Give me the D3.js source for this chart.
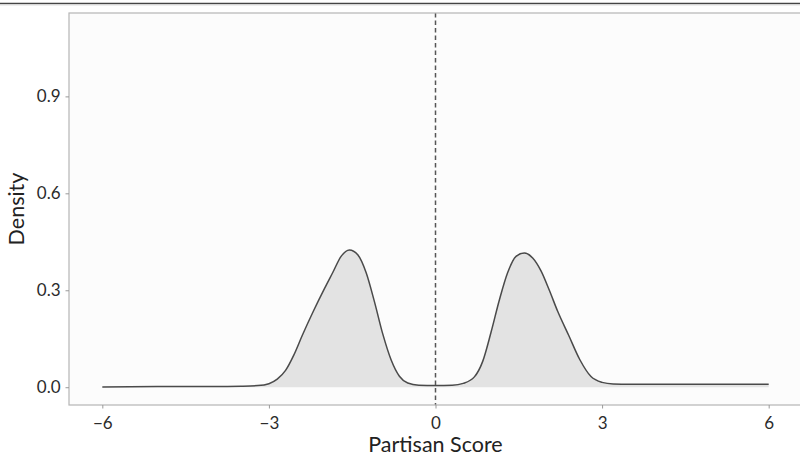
<!DOCTYPE html>
<html>
<head>
<meta charset="utf-8">
<script src="https://cdn.jsdelivr.net/npm/d3@7"></script>
<style>
  body { margin: 0; background: #fff; }
  svg { display: block; font-family: Lato, "Open Sans", sans-serif; }
</style>
</head>
<body>
<div id="chart"></div>
<script>
// density estimate
const scoreX = [-6, -5, -4, -3.5, -3.2, -3.0, -2.85, -2.7, -2.55, -2.4, -2.2, -2.0, -1.85, -1.7, -1.55,
  -1.4, -1.25, -1.1, -0.95, -0.8, -0.65, -0.5, -0.3, 0, 0.3, 0.5, 0.7, 0.85, 1.0, 1.15, 1.3, 1.45,
  1.6, 1.75, 1.9, 2.05, 2.2, 2.4, 2.6, 2.8, 3.0, 3.2, 3.5, 4, 5, 6]
const densityY = [0.001, 0.002, 0.002, 0.003, 0.005, 0.011, 0.025, 0.052, 0.1, 0.16, 0.235, 0.305, 0.355, 0.405, 0.425,
  0.41, 0.355, 0.265, 0.165, 0.085, 0.034, 0.013, 0.006, 0.005, 0.006, 0.012, 0.032, 0.08, 0.17, 0.27, 0.355, 0.405,
  0.415, 0.4, 0.36, 0.3, 0.235, 0.16, 0.085, 0.033, 0.015, 0.01, 0.009, 0.009, 0.009, 0.009]
const xTicks = [-6, -3, 0, 3, 6]
const yTicks = [0, 0.3, 0.6, 0.9]
const xDomain = [-6.6, 6.6]
const yDomain = [-0.055, 1.158]

const W = 800, H = 456
const margin = {top: 13, right: -2, bottom: 51, left: 69}

const svg = d3.select("#chart").append("svg")
  .attr("width", W)
  .attr("height", H)

// top rule
svg.append("line")
  .attr("x1", 0).attr("x2", W)
  .attr("y1", 3.5).attr("y2", 3.5)
  .attr("stroke", "#444").attr("stroke-width", 1.5)
svg.append("line")
  .attr("x1", 0).attr("x2", W)
  .attr("y1", 5).attr("y2", 5)
  .attr("stroke", "#ddd").attr("stroke-width", 1)

const x = d3.scaleLinear().domain(xDomain).range([margin.left, W - margin.right])
const y = d3.scaleLinear().domain(yDomain).range([H - margin.bottom, margin.top])

const data = scoreX.map((v, i) => ({x: v, d: densityY[i]}))

// panel
svg.append("rect")
  .attr("x", margin.left)
  .attr("y", margin.top)
  .attr("width", W - margin.right - margin.left)
  .attr("height", H - margin.bottom - margin.top)
  .attr("fill", "#fcfcfc")

svg.append("path")
  .datum(data)
  .attr("fill", "#e3e3e3")
  .attr("d", d3.area().x(d => x(d.x)).y0(y(0)).y1(d => y(d.d)).curve(d3.curveMonotoneX))

svg.append("path")
  .datum(data)
  .attr("fill", "none")
  .attr("stroke", "#4a4a4a")
  .attr("stroke-width", 1.5)
  .attr("d", d3.line().x(d => x(d.x)).y(d => y(d.d)).curve(d3.curveMonotoneX))

svg.append("line")
  .attr("x1", x(0)).attr("x2", x(0))
  .attr("y1", margin.top).attr("y2", H - margin.bottom)
  .attr("stroke", "#555")
  .attr("stroke-width", 1.5)
  .attr("stroke-dasharray", "4.5,3")

svg.append("rect")
  .attr("x", margin.left)
  .attr("y", margin.top)
  .attr("width", W - margin.right - margin.left)
  .attr("height", H - margin.bottom - margin.top)
  .attr("fill", "none")
  .attr("stroke", "#b5b5b5")
  .attr("stroke-width", 1.2)

// axes
const xAxis = svg.append("g")
  .attr("transform", `translate(0,${H - margin.bottom})`)
  .call(d3.axisBottom(x).tickValues(xTicks).tickSize(3.5).tickPadding(8)
    .tickFormat(d => d < 0 ? "\u2212" + Math.abs(d) : d))
xAxis.select(".domain").remove()

const yAxis = svg.append("g")
  .attr("transform", `translate(${margin.left},0)`)
  .call(d3.axisLeft(y).tickValues(yTicks).tickSize(3.5).tickPadding(5)
    .tickFormat(d3.format(".1f")))
yAxis.select(".domain").remove()

svg.selectAll(".tick line").attr("stroke", "#999")
svg.selectAll(".tick text")
  .attr("fill", "#2b2b2b")
  .attr("font-size", 17)
  .attr("font-family", "Lato, sans-serif")

svg.append("text")
  .attr("x", x(0))
  .attr("y", 452)
  .attr("text-anchor", "middle")
  .attr("font-size", 21.5)
  .attr("fill", "#222")
  .text("Partisan Score")

svg.append("text")
  .attr("transform", `translate(24,${(margin.top + H - margin.bottom) / 2}) rotate(-90)`)
  .attr("text-anchor", "middle")
  .attr("font-size", 21.5)
  .attr("fill", "#222")
  .text("Density")
</script>
</body>
</html>
